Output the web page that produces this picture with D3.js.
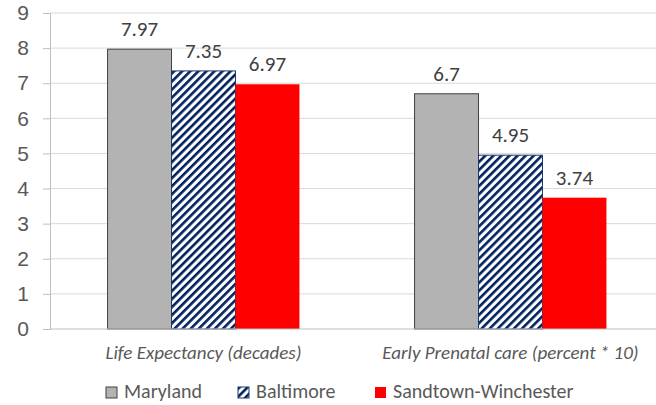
<!DOCTYPE html>
<html>
<head>
<meta charset="utf-8">
<script src="https://cdn.jsdelivr.net/npm/d3@7"></script>
<style>
  body { margin: 0; background: #fff; }
  svg { font-family: Carlito, Calibri, "Open Sans", sans-serif; }
</style>
</head>
<body>
<svg id="chart" width="656" height="405"></svg>
<script>
const categories = ['Life Expectancy (decades)', 'Early Prenatal care (percent * 10)'];
const seriesNames = ['Maryland', 'Baltimore', 'Sandtown-Winchester'];
const maryland = [7.97, 6.7];
const baltimore = [7.35, 4.95];
const sandtown = [6.97, 3.74];
const yTicks = [0, 1, 2, 3, 4, 5, 6, 7, 8, 9];

const seriesValues = [maryland, baltimore, sandtown];
const fills = ['#b3b3b3', 'url(#hatch)', '#ff0000'];
const strokes = ['#404040', '#1f3864', 'none'];

const svg = d3.select('#chart');

// hatch pattern for Baltimore (dark navy diagonal stripes)
const defs = svg.append('defs');
const pat = defs.append('pattern')
    .attr('id', 'hatch')
    .attr('patternUnits', 'userSpaceOnUse')
    .attr('width', 5.7)
    .attr('height', 5.7)
    .attr('patternTransform', 'rotate(45)');
pat.append('rect').attr('width', 5.7).attr('height', 5.7).attr('fill', '#fff');
pat.append('rect').attr('x', 0).attr('width', 2.6).attr('height', 5.7).attr('fill', '#002060');

const x0 = d3.scaleBand().domain(categories).range([50, 664]).paddingInner(0).paddingOuter(0);
const x1 = d3.scaleBand().domain(seriesNames).range([0, x0.bandwidth()]).paddingOuter(0.9);
const y = d3.scaleLinear().domain([0, 9]).range([329, 13]);

// gridlines
svg.append('g')
  .selectAll('line')
  .data(yTicks.slice(1))
  .enter().append('line')
    .attr('x1', 50).attr('x2', 656)
    .attr('y1', d => y(d)).attr('y2', d => y(d))
    .attr('stroke', '#d9d9d9').attr('stroke-width', 1);

// y axis
const yAxis = svg.append('g')
    .attr('transform', 'translate(50,0)')
    .call(d3.axisLeft(y).tickValues(yTicks).tickSize(7).tickPadding(14).tickFormat(d3.format('d')));
yAxis.select('.domain').attr('stroke', '#bfbfbf');
yAxis.selectAll('.tick line').attr('stroke', '#bfbfbf');
yAxis.selectAll('.tick text').attr('fill', '#595959').style('font-size', '21px');

// bars
const groups = svg.append('g')
  .selectAll('g')
  .data(categories)
  .enter().append('g')
    .attr('transform', d => `translate(${x0(d)},0)`);

groups.selectAll('rect')
  .data((d, i) => seriesNames.map((s, j) => ({ s, j, v: seriesValues[j][i] })))
  .enter().append('rect')
    .attr('x', d => x1(d.s))
    .attr('width', x1.bandwidth())
    .attr('y', d => y(d.v))
    .attr('height', d => y(0) - y(d.v))
    .attr('fill', d => fills[d.j])
    .attr('stroke', d => strokes[d.j])
    .attr('stroke-width', 1);

groups.selectAll('text.val')
  .data((d, i) => seriesNames.map((s, j) => ({ s, j, v: seriesValues[j][i] })))
  .enter().append('text')
    .attr('class', 'val')
    .attr('x', d => x1(d.s) + x1.bandwidth() / 2)
    .attr('y', d => y(d.v) - 13)
    .attr('text-anchor', 'middle')
    .attr('fill', '#404040')
    .style('font-size', '21px')
    .text(d => d.v);

// x axis line
svg.append('line')
    .attr('x1', 50).attr('x2', 656)
    .attr('y1', y(0)).attr('y2', y(0))
    .attr('stroke', '#bfbfbf');

// category labels
svg.append('g')
  .selectAll('text')
  .data(categories)
  .enter().append('text')
    .attr('x', d => x0(d) + x0.bandwidth() / 2)
    .attr('y', 359)
    .attr('text-anchor', 'middle')
    .attr('fill', '#595959')
    .style('font-size', '19px')
    .style('font-style', 'italic')
    .text(d => d);

// legend
const legendX = [106, 238, 375];
const legend = svg.append('g')
  .selectAll('g')
  .data(seriesNames)
  .enter().append('g')
    .attr('transform', (d, i) => `translate(${legendX[i]},387)`);

legend.append('rect')
    .attr('width', 11).attr('height', 11)
    .attr('fill', (d, i) => fills[i])
    .attr('stroke', (d, i) => strokes[i]);

legend.append('text')
    .attr('x', 18)
    .attr('y', 11)
    .attr('fill', '#595959')
    .style('font-size', '20px')
    .text(d => d);
</script>
</body>
</html>
